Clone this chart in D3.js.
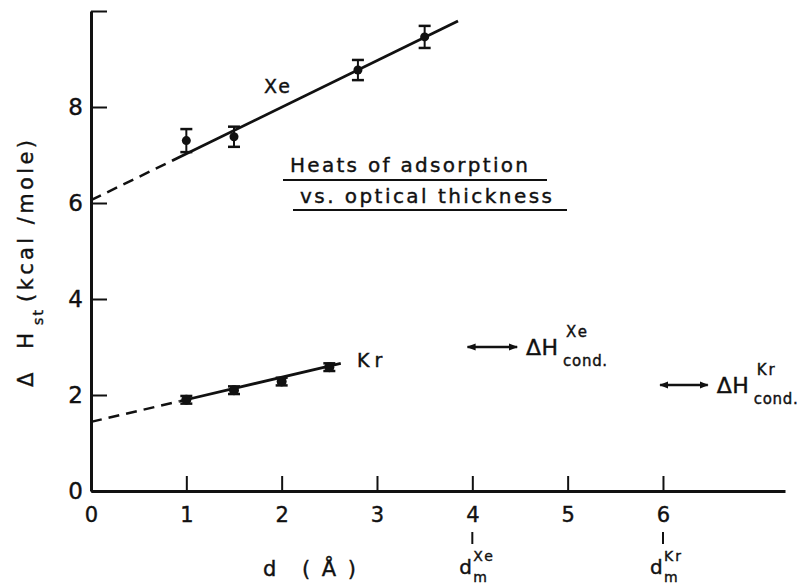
<!DOCTYPE html>
<html>
<head>
<meta charset="utf-8">
<style>
  body { margin: 0; background: #fff; }
  svg text { font-family: "DejaVu Sans", sans-serif; fill: #111; stroke: #111; stroke-width: 0.4; }
  .axis path, .axis line { stroke: #111; }
</style>
</head>
<body>
<script src="https://cdn.jsdelivr.net/npm/d3@7"></script>
<script>
// data
var xeD = [1, 1.5, 2.8, 3.5];
var xeH = [7.30, 7.38, 8.77, 9.46];
var xeErr = [0.24, 0.21, 0.21, 0.23];

var krD = [1, 1.5, 2, 2.5];
var krH = [1.90, 2.10, 2.28, 2.58];
var krErr = [0.08, 0.08, 0.08, 0.08];

// fitted lines: dashed from first to second point, solid from second to third
var xeFitD = [0, 0.85, 3.85];
var xeFitH = [6.06, 6.88, 9.79];
var krFitD = [0, 0.93, 2.62];
var krFitH = [1.44, 1.87, 2.66];

// heats of condensation (double arrows) and monolayer thickness marks
var condGas = ["Xe", "Kr"];
var condH = [3.0, 2.21];
var condD0 = [3.95, 5.97];
var condD1 = [4.47, 6.47];
var dmValues = [4, 6];

var xTicks = [0, 1, 2, 3, 4, 5, 6];
var yTicks = [0, 2, 4, 6, 8, 10];

var width = 801, height = 584;

var x = d3.scaleLinear().domain([0, 7.28]).range([91, 785]);
var y = d3.scaleLinear().domain([0, 10]).range([491, 11]);

var svg = d3.select("body").append("svg")
  .attr("width", width)
  .attr("height", height);

var defs = svg.append("defs");
defs.append("marker")
  .attr("id", "ah")
  .attr("viewBox", "0 0 10 10")
  .attr("refX", 9).attr("refY", 5)
  .attr("markerWidth", 9).attr("markerHeight", 9)
  .attr("markerUnits", "userSpaceOnUse")
  .attr("orient", "auto-start-reverse")
  .append("path")
  .attr("d", "M0,1 L10,5 L0,9 Z")
  .attr("fill", "#111");

// x axis
var xAxis = d3.axisBottom(x).tickValues(xTicks).tickSize(-15).tickSizeOuter(0).tickPadding(16)
  .tickFormat(d3.format("d"));
var gx = svg.append("g").attr("class", "axis")
  .attr("transform", "translate(0," + y(0) + ")")
  .call(xAxis);
gx.select(".domain").attr("stroke-width", 3);
gx.selectAll(".tick line").attr("stroke-width", 2);
gx.selectAll(".tick text").attr("font-size", 21).attr("fill", "#111")
  .attr("font-family", "DejaVu Sans");

// y axis
var yAxis = d3.axisLeft(y).tickValues(yTicks).tickSize(-16).tickSizeOuter(0).tickPadding(8)
  .tickFormat(function(d) { return d === 10 ? "" : d; });
var gy = svg.append("g").attr("class", "axis")
  .attr("transform", "translate(" + x(0) + ",0)")
  .call(yAxis);
gy.select(".domain").attr("stroke-width", 3);
gy.selectAll(".tick line").attr("stroke-width", 2);
gy.selectAll(".tick text").attr("font-size", 23).attr("fill", "#111")
  .attr("font-family", "DejaVu Sans");

// fitted lines
function drawFit(ds, hs) {
  var line = d3.line().x(function(p) { return x(p[0]); }).y(function(p) { return y(p[1]); });
  svg.append("path")
    .attr("d", line([[ds[0], hs[0]], [ds[1], hs[1]]]))
    .attr("stroke", "#111").attr("stroke-width", 2.5).attr("fill", "none")
    .attr("stroke-dasharray", "11,7");
  svg.append("path")
    .attr("d", line([[ds[1], hs[1]], [ds[2], hs[2]]]))
    .attr("stroke", "#111").attr("stroke-width", 2.8).attr("fill", "none");
}
drawFit(xeFitD, xeFitH);
drawFit(krFitD, krFitH);

// points with error bars
function drawPoints(ds, hs, es, r, bw) {
  var g = svg.append("g");
  var pts = ds.map(function(d, i) { return {d: d, h: hs[i], e: es[i]}; });
  g.selectAll(".eb").data(pts).enter().append("line")
    .attr("x1", function(p) { return x(p.d); }).attr("x2", function(p) { return x(p.d); })
    .attr("y1", function(p) { return y(p.h - p.e); }).attr("y2", function(p) { return y(p.h + p.e); })
    .attr("stroke", "#111").attr("stroke-width", bw);
  [-1, 1].forEach(function(s) {
    g.selectAll(".cap" + s).data(pts).enter().append("line")
      .attr("x1", function(p) { return x(p.d) - 6; }).attr("x2", function(p) { return x(p.d) + 6; })
      .attr("y1", function(p) { return y(p.h + s * p.e); }).attr("y2", function(p) { return y(p.h + s * p.e); })
      .attr("stroke", "#111").attr("stroke-width", 2.5);
  });
  g.selectAll("circle").data(pts).enter().append("circle")
    .attr("cx", function(p) { return x(p.d); }).attr("cy", function(p) { return y(p.h); })
    .attr("r", r).attr("fill", "#111");
}
drawPoints(xeD, xeH, xeErr, 4.5, 2);
drawPoints(krD, krH, krErr, 5, 5);

// series labels
svg.append("text").attr("x", 264).attr("y", 93).attr("font-size", 19)
  .attr("letter-spacing", 2).text("Xe");
svg.append("text").attr("x", 357).attr("y", 367).attr("font-size", 19)
  .attr("letter-spacing", 5).text("Kr");

// title with underlines
svg.append("text").attr("x", 290).attr("y", 172).attr("font-size", 20)
  .attr("textLength", 238).attr("lengthAdjust", "spacing").text("Heats of adsorption");
svg.append("line").attr("x1", 283).attr("x2", 547).attr("y1", 180).attr("y2", 180)
  .attr("stroke", "#111").attr("stroke-width", 2);
svg.append("text").attr("x", 300).attr("y", 203).attr("font-size", 20)
  .attr("textLength", 252).attr("lengthAdjust", "spacing").text("vs. optical thickness");
svg.append("line").attr("x1", 293).attr("x2", 567).attr("y1", 210).attr("y2", 210)
  .attr("stroke", "#111").attr("stroke-width", 2);

// heats of condensation
condGas.forEach(function(gas, i) {
  var yy = y(condH[i]);
  svg.append("line")
    .attr("x1", x(condD0[i])).attr("x2", x(condD1[i]))
    .attr("y1", yy).attr("y2", yy)
    .attr("stroke", "#111").attr("stroke-width", 2.5)
    .attr("marker-start", "url(#ah)").attr("marker-end", "url(#ah)");
  var x0 = x(condD1[i]) + 9;
  svg.append("text").attr("x", x0).attr("y", yy + 8).attr("font-size", 22)
    .attr("textLength", 32).attr("lengthAdjust", "spacing").text("\u0394H");
  svg.append("text").attr("x", x0 + 40).attr("y", yy - 10).attr("font-size", 15)
    .attr("letter-spacing", 2).text(gas);
  svg.append("text").attr("x", x0 + 37).attr("y", yy + 19).attr("font-size", 15)
    .attr("textLength", 44).attr("lengthAdjust", "spacing").text("cond.");
});

// monolayer thickness marks below the axis
dmValues.forEach(function(v, i) {
  var xx = x(v);
  svg.append("line").attr("x1", xx).attr("x2", xx).attr("y1", 532).attr("y2", 544)
    .attr("stroke", "#111").attr("stroke-width", 2);
  svg.append("text").attr("x", xx - 13).attr("y", 574).attr("font-size", 20).text("d");
  svg.append("text").attr("x", xx + 1).attr("y", 561).attr("font-size", 14)
    .attr("letter-spacing", 2).text(condGas[i]);
  svg.append("text").attr("x", xx + 1).attr("y", 582).attr("font-size", 14).text("m");
});

// axis titles
svg.append("text").attr("x", 263).attr("y", 576).attr("font-size", 21).text("d");
svg.append("text").attr("x", 302).attr("y", 576).attr("font-size", 21)
  .attr("textLength", 54).attr("lengthAdjust", "spacing").text("(\u00C5)");

svg.append("text").attr("transform", "translate(33,387) rotate(-90)")
  .attr("font-size", 21).attr("textLength", 54).attr("lengthAdjust", "spacing").text("\u0394H");
svg.append("text").attr("transform", "translate(43,325) rotate(-90)")
  .attr("font-size", 14).attr("textLength", 15).attr("lengthAdjust", "spacing").text("st");
svg.append("text").attr("transform", "translate(33,302) rotate(-90)")
  .attr("font-size", 21).attr("textLength", 162).attr("lengthAdjust", "spacing").text("(kcal /mole)");
</script>
</body>
</html>
